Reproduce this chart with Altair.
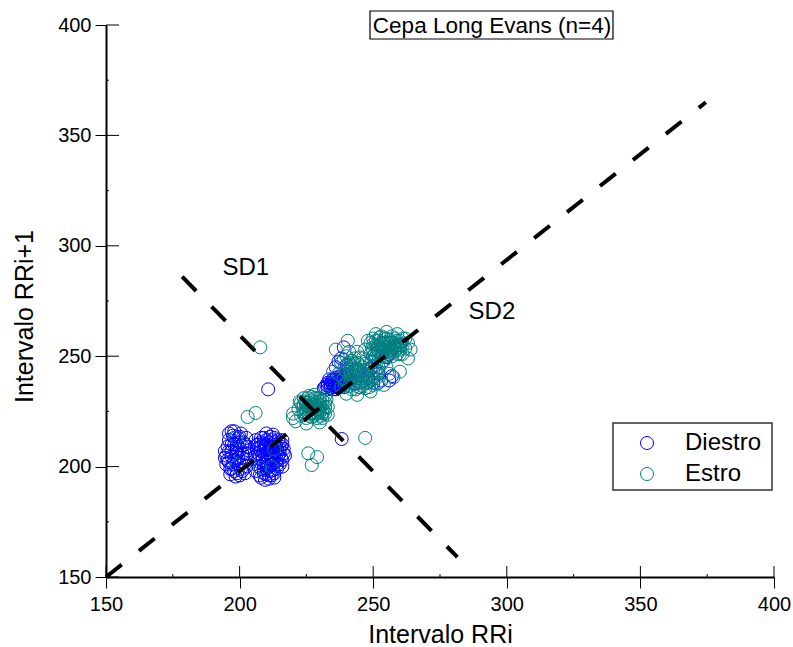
import altair as alt
import pandas as pd

# ---------------- data ----------------
series_names = ["Diestro", "Estro"]
series_colors = ["#0000ff", "#008080"]

diestro_pts = [
    # left lobe
    (195, 205), (195.5, 209), (196, 202), (196, 212), (197, 199), (197, 207), (197.5, 214),
    (198, 203), (198, 210), (199, 197), (199, 206), (199.5, 213), (200, 201), (200, 208),
    (200.5, 215), (201, 198), (201, 204), (201.5, 211), (202, 206), (202.5, 200), (202.5, 213),
    (196.5, 196.5), (198.5, 195.5), (200, 196), (202, 197), (195, 201), (194.5, 207), (196, 215),
    (198, 216), (203, 209), (203, 203), (201, 209.5), (199, 210), (197, 204.5), (199, 201.5),
    (195.5, 203), (196, 207), (197, 210), (197.5, 201), (198, 213), (198, 198), (199, 208),
    (199.5, 204), (200, 211), (200.5, 199), (201, 206), (201.5, 202), (202, 210), (196.5, 199),
    (194.5, 204), (203, 206), (200, 213.5), (197, 216), (198.5, 206.5),
    # right lobe
    (206, 212), (206.5, 208), (207, 204), (207, 200), (207.5, 196), (208, 213), (208, 209),
    (208.5, 205), (209, 201), (209, 197), (209.5, 194), (210, 212), (210, 208), (210.5, 204),
    (211, 200), (211, 196), (211.5, 213.5), (212, 209), (212, 205), (212.5, 201), (213, 197),
    (213, 211), (213.5, 207), (214, 203), (214, 199), (214.5, 212), (215, 208), (215.5, 204),
    (216, 210), (216.5, 206), (209, 210.5), (211, 206.5), (213, 209), (210, 202), (212, 203),
    (208, 207), (214, 206), (207, 210), (215, 201), (211, 194.5), (213, 195), (208, 195),
    (206, 198), (216, 200), (210, 215), (212.5, 214.5),
    (206.5, 210), (207, 206), (207.5, 202), (208, 211), (208.5, 203), (209, 207), (209, 213),
    (209.5, 205), (210, 210), (210, 199), (210.5, 206), (211, 203), (211, 211), (211.5, 208),
    (212, 201), (212, 212), (212.5, 207), (213, 204), (213, 213), (213.5, 210), (214, 201),
    (214, 208), (214.5, 205), (215, 211), (215, 206), (215.5, 209), (216, 203), (216, 212),
    (209.5, 209), (210.5, 200.5), (211.5, 198), (212.5, 198.5), (209, 198.5), (208, 199),
    (207, 208.5), (216.5, 208), (217, 205), (206, 205), (213.5, 202), (210, 196.5), (212, 196),
    # middle dense blob
    (232, 236), (233, 238), (234, 235.5), (234.5, 239), (235, 237), (236, 235), (236, 240),
    (237, 238), (238, 236.5), (238, 241), (239, 239), (240, 242), (233, 236.5), (235.5, 236),
    (237, 236), (234, 237.5), (236.5, 238.5), (239, 237.5), (240, 240), (241, 243),
    (232.5, 237), (233, 235), (233.5, 239.5), (234, 236.5), (234.5, 238), (235, 235),
    (235, 239.5), (235.5, 237.5), (236, 236.5), (236.5, 240.5), (237, 237), (237.5, 239),
    (238, 238), (238.5, 240), (239, 236), (239.5, 241), (231.5, 235.5), (240.5, 241.5), (241, 239),
    # scattered around the middle cluster
    (236, 245), (238, 249), (239, 254), (237, 247.5), (240, 246), (242, 244), (244, 243),
    (246, 241), (248, 240), (250, 238), (253, 239), (256, 239), (257, 241), (245, 238),
    (243, 237.5), (252, 242), (249, 244),
    # under the upper-right cluster
    (250, 250), (252, 252), (254, 248), (256, 251), (258, 254), (253, 256), (255, 249.5), (260, 255),
    # isolated
    (210.7, 235), (238.2, 212.5),
]

estro_pts = [
    # lower cluster
    (222, 226), (223, 223), (223, 229), (224, 225), (224, 231), (225, 222), (225, 227.5),
    (226, 224), (226, 229), (226, 232), (227, 226), (227, 222.5), (228, 228), (228, 224),
    (228, 231), (229, 226), (229, 222), (230, 228), (230, 224.5), (230, 231), (231, 226),
    (231, 222), (232, 229), (232, 224), (233, 227), (225, 225), (227, 230), (229, 229),
    (228, 226), (226, 227), (230, 226.5), (224, 228), (227, 228), (229, 224), (231, 230),
    (222.5, 229.5), (232, 232), (233, 223.5), (225, 219.5), (230, 220), (220, 224), (221, 220.5),
    (223.5, 227), (224, 223.5), (224.5, 229.5), (225, 226), (225.5, 231), (226, 223),
    (226.5, 228), (227, 224.5), (227, 231.5), (227.5, 227), (228, 223), (228.5, 229.5),
    (229, 227.5), (229.5, 225), (230, 229.5), (230.5, 223), (231, 228), (231.5, 225),
    (232, 227), (232.5, 230.5), (228, 232.5), (226, 225.5), (229, 231), (231, 224), (225, 229),
    # middle cluster
    (238, 236), (239, 240), (239, 244), (240, 233), (240, 238), (241, 242), (241, 247),
    (242, 235), (242, 240), (243, 244), (243, 238), (244, 232.5), (244, 241), (244, 247),
    (245, 236), (245, 243), (246, 239), (246, 245), (247, 242), (247, 235.5), (248, 238),
    (248, 244), (249, 241), (249, 247), (250, 237), (250, 243), (251, 240), (251, 246),
    (252, 243), (252, 238), (243, 249), (240, 250), (246, 249), (242, 242.5), (244, 238.5),
    (245, 240), (247, 240), (243, 241), (246, 242), (248, 241.5), (237, 242), (238, 247),
    (241, 252), (253, 247), (254, 237), (249, 234), (255, 245), (256, 242),
    (239.5, 237), (240, 243), (240.5, 246), (241, 236.5), (241.5, 239.5), (242, 245.5),
    (242.5, 237.5), (243, 246.5), (243.5, 235), (244, 244), (244.5, 236), (245, 246),
    (245.5, 238.5), (246, 236.5), (246.5, 243.5), (247, 246.5), (247.5, 238), (248, 243),
    (248.5, 236), (249, 239), (249.5, 245), (250, 240.5), (250.5, 248), (251, 243.5),
    (251.5, 237.5), (252, 245), (242, 248), (245, 249.5), (239, 248.5),
    # upper-right cluster
    (249, 251), (249, 256), (250, 253), (250, 258), (251, 250), (251, 255), (252, 257),
    (252, 252.5), (253, 250), (253, 254), (253, 259), (254, 252), (254, 256), (255, 250),
    (255, 254), (255, 258), (256, 252), (256, 256), (257, 250), (257, 254), (257, 259),
    (258, 252), (258, 256), (259, 251), (259, 255), (260, 253), (260, 257), (261, 255),
    (254, 254), (256, 254), (255, 252), (253, 252), (257, 256), (252, 255), (258, 254),
    (262, 258), (263, 256), (261, 251), (247, 253), (248, 257), (251, 260), (255, 261),
    (259, 260), (264, 253),
    (249.5, 253.5), (250, 255.5), (250.5, 251), (251, 257), (251.5, 253), (252, 250),
    (252.5, 258.5), (253, 255.5), (253.5, 251.5), (254, 258), (254.5, 253), (255, 256),
    (255.5, 251), (256, 257.5), (256.5, 253), (257, 251.5), (257.5, 255), (258, 258),
    (258.5, 253), (259, 257), (259.5, 254), (260, 251), (260.5, 255.5), (261, 258), (262, 253.5),
    # scattered
    (207.7, 254), (203, 222.5), (206, 224.3), (198.7, 213), (213, 208), (199, 200.7),
    (207.7, 199.4), (212, 199.8), (225.7, 206), (227, 200.7), (229, 204.3), (247, 213),
    (220, 222), (257.6, 240.5), (260, 243), (236, 253), (240.5, 257), (244, 252), (263, 249),
    (235, 243),
]

tick_values = [150, 200, 250, 300, 350, 400]
minor_values = [175, 225, 275, 325, 375]

sd1_x = [178.5, 281.5]
sd1_y = [286, 159]
sd2_x = [150, 374.5]
sd2_y = [150, 365]

sd_label_x = [193.6, 285.7]
sd_label_y = [290, 270]
sd_label_text = ["SD1", "SD2"]

title_text = "Cepa Long Evans (n=4)"
x_title = "Intervalo RRi"
y_title = "Intervalo RRi+1"

# ---------------- tables ----------------
rows = [{"x": p[0], "y": p[1], "serie": "Diestro"} for p in diestro_pts] + \
       [{"x": p[0], "y": p[1], "serie": "Estro"} for p in estro_pts]
pts_df = pd.DataFrame(rows)

lines_df = pd.DataFrame({
    "x": sd1_x + sd2_x,
    "y": sd1_y + sd2_y,
    "line": ["SD1", "SD1", "SD2", "SD2"],
})
labels_df = pd.DataFrame({"x": sd_label_x, "y": sd_label_y, "t": sd_label_text})

W, H = 668, 552
FONT = "Liberation Sans"

xscale = alt.Scale(domain=[150, 400], nice=False, zero=False)
yscale = alt.Scale(domain=[150, 400], nice=False, zero=False)

X = alt.X("x:Q", scale=xscale,
          axis=alt.Axis(values=tick_values, title=x_title, titlePadding=8, labelPadding=6))
Y = alt.Y("y:Q", scale=yscale,
          axis=alt.Axis(values=tick_values, title=y_title, titlePadding=20, labelPadding=4,
                        titleY=291))

points = alt.Chart(pts_df).mark_point(
    filled=False, size=169, strokeWidth=1, opacity=1, shape="circle"
).encode(
    x=X, y=Y,
    color=alt.Color("serie:N",
                    scale=alt.Scale(domain=series_names, range=series_colors),
                    legend=alt.Legend(title=None, orient="none", legendX=529, legendY=406,
                                      symbolType="circle", symbolSize=169, symbolStrokeWidth=1,
                                      labelFontSize=24, labelFont=FONT, labelColor="black",
                                      labelOffset=26, rowPadding=7, padding=0)),
)

lines = alt.Chart(lines_df).mark_line(
    color="black", strokeWidth=4, strokeDash=[20, 22]
).encode(x=X, y=Y, detail="line:N")

labels = alt.Chart(labels_df).mark_text(
    align="left", baseline="middle", fontSize=24, font=FONT, color="black"
).encode(x=X, y=Y, text="t:N")

yt_df = pd.DataFrame({"y": tick_values})
xt_df = pd.DataFrame({"x": tick_values})
ym_df = pd.DataFrame({"y": minor_values})
xm_df = pd.DataFrame({"x": minor_values})

y_inner = alt.Chart(yt_df).mark_rule(color="black", strokeWidth=1).encode(
    y=Y, x=alt.value(0), x2=alt.value(13))
x_inner = alt.Chart(xt_df).mark_rule(color="black", strokeWidth=1).encode(
    x=X, y=alt.value(H), y2=alt.value(H - 11))
y_minor = alt.Chart(ym_df).mark_rule(color="black", strokeWidth=1).encode(
    y=Y, x=alt.value(0), x2=alt.value(3))
x_minor = alt.Chart(xm_df).mark_rule(color="black", strokeWidth=1).encode(
    x=X, y=alt.value(H), y2=alt.value(H - 3))

box_df = pd.DataFrame({"t": [title_text]})
title_box = alt.Chart(box_df).mark_rect(
    fill="white", stroke="black", strokeWidth=1.2
).encode(x=alt.value(264), x2=alt.value(507), y=alt.value(-14), y2=alt.value(14))
title_txt = alt.Chart(box_df).mark_text(
    align="center", baseline="middle", fontSize=22.5, font=FONT, color="black"
).encode(x=alt.value(386), y=alt.value(1), text="t:N")

legend_box = alt.Chart(pd.DataFrame({"k": [0]})).mark_rect(
    fill="white", stroke="#333333", strokeWidth=1.5
).encode(x=alt.value(507), x2=alt.value(666), y=alt.value(398), y2=alt.value(465))

chart = alt.layer(
    points, lines, labels, y_inner, x_inner, y_minor, x_minor,
    legend_box, title_box, title_txt
).properties(
    width=W, height=H,
    autosize=alt.AutoSizeParams(type="none"),
    padding={"left": 106, "top": 25, "right": 19, "bottom": 70},
).configure_view(stroke=None).configure_axis(
    grid=False, domainColor="black", domainWidth=2, tickColor="black", tickWidth=1,
    tickSize=11, labelFontSize=20, labelFont=FONT, labelColor="black",
    titleFont=FONT, titleFontSize=25, titleFontWeight="normal", titleColor="black",
    labelFlush=False, labelOverlap=False,
)

chart.save("out.html", embed_options={"renderer": "svg", "actions": False})
